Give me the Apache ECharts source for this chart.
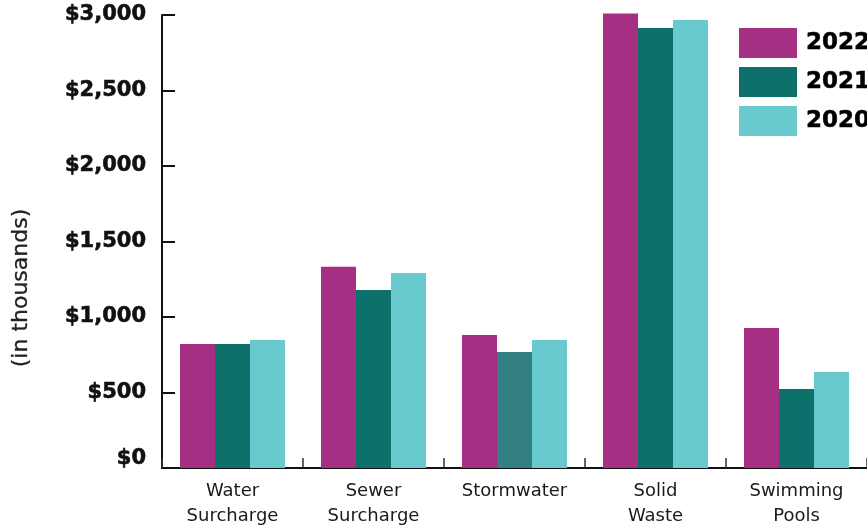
<!DOCTYPE html>
<html>
<head>
<meta charset="utf-8">
<script src="https://cdn.jsdelivr.net/npm/echarts@6/dist/echarts.min.js"></script>
<style>
  html, body { margin: 0; padding: 0; background: #fff; }
  #chart { width: 867px; height: 525px; }
</style>
</head>
<body>
<div id="chart"></div>
<script>
// categories and values (in thousands)
var categories = ['Water\nSurcharge', 'Sewer\nSurcharge', 'Stormwater', 'Solid\nWaste', 'Swimming\nPools']
var years = ['2022', '2021', '2020']
var values2022 = [821, 1333, 881, 3010, 927]
var values2021 = [821, 1179, 768, 2914, 523]
var values2020 = [848, 1291, 848, 2967, 636]
var yTicks = [0, 500, 1000, 1500, 2000, 2500, 3000]

var colors = ['#a52f82', '#0e706b', '#68c9cf']

var myChart = echarts.init(document.getElementById('chart'))

function fmt(v) {
    var s = '$' + v.toLocaleString('en-US')
    // the $0 label sits a little above the axis in the original
    if (v === 0) return '{z|' + s + '}'
    return s
}

// stormwater 2021 bar is a bit lighter in the original
var data2021 = values2021.map(function (v, i) {
    if (i === 2) return { value: v, itemStyle: { color: '#337f82' } }
    return v
})

var labelBold = {
    color: '#111',
    fontSize: 21,
    fontWeight: 'bold',
    textBorderColor: '#111',
    textBorderWidth: 0.6
}

var option = {
    animation: false,
    textStyle: { fontFamily: 'DejaVu Sans' },
    grid: { left: 162, top: 15, right: 0, bottom: 57, outerBoundsMode: 'none' },
    legend: {
        orient: 'vertical',
        left: 734,
        top: 23,
        itemWidth: 58,
        itemHeight: 30,
        itemGap: 9,
        icon: 'rect',
        data: years,
        textStyle: {
            fontFamily: 'DejaVu Sans', fontWeight: 'bold', fontSize: 23, color: '#000',
            textBorderColor: '#000', textBorderWidth: 0.5, padding: [0, 0, 0, 4]
        }
    },
    xAxis: {
        type: 'category',
        data: categories,
        axisLine: { lineStyle: { color: '#111', width: 2 } },
        axisTick: { show: true, inside: true, length: 10, lineStyle: { color: '#333', width: 1.5 } },
        axisLabel: { color: '#1a1a1a', fontSize: 18, lineHeight: 25, margin: 11, interval: 0 }
    },
    yAxis: {
        type: 'value',
        min: yTicks[0],
        max: yTicks[yTicks.length - 1],
        interval: 500,
        splitLine: { show: false },
        axisLine: { show: true, lineStyle: { color: '#111', width: 2 } },
        axisTick: { show: true, inside: true, length: 13, lineStyle: { color: '#111', width: 2 } },
        axisLabel: Object.assign({
            margin: 16,
            formatter: fmt,
            rich: {
                z: Object.assign({ padding: [0, 0, 18, 0] }, labelBold)
            }
        }, labelBold)
    },
    graphic: [{
        type: 'text',
        x: 21,
        y: 288,
        rotation: Math.PI / 2,
        style: {
            text: '(in thousands)',
            fill: '#222',
            font: '22px "DejaVu Sans"',
            textAlign: 'center',
            textVerticalAlign: 'middle',
            stroke: '#222',
            lineWidth: 0.3
        }
    }],
    series: [
        { name: years[0], type: 'bar', data: values2022, barWidth: 35, barGap: '0%', clip: false, itemStyle: { color: colors[0] } },
        { name: years[1], type: 'bar', data: data2021, barWidth: 35, barGap: '0%', clip: false, itemStyle: { color: colors[1] } },
        { name: years[2], type: 'bar', data: values2020, barWidth: 35, barGap: '0%', clip: false, itemStyle: { color: colors[2] } }
    ]
}

myChart.setOption(option)
</script>
</body>
</html>
